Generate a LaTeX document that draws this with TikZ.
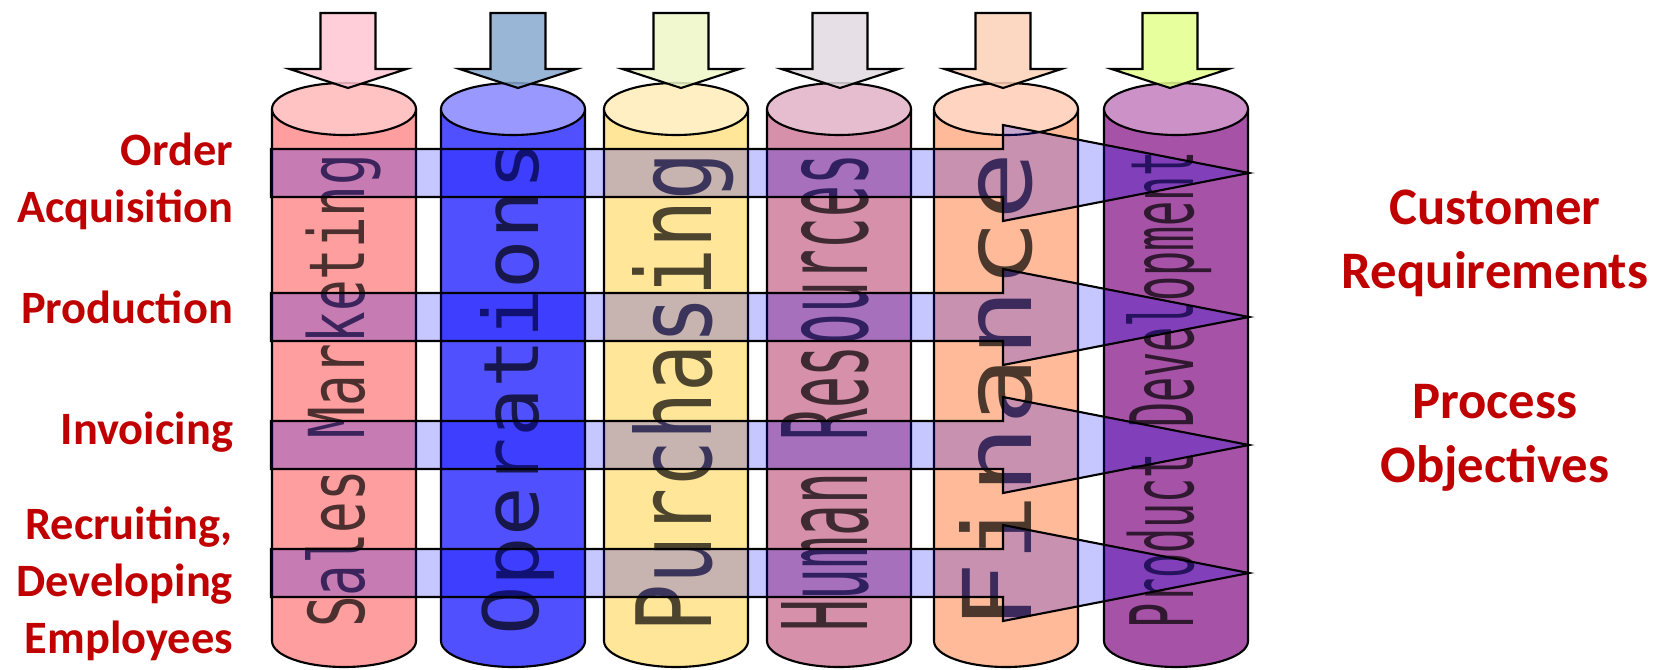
\documentclass[tikz,border=0pt]{standalone}
\usepackage{fontspec}
\setmainfont{Carlito}
\newfontfamily\cylfont{DejaVu Sans Mono}
\usepackage{graphicx}
\usepackage{xcolor}
\usepackage{tikz}

\definecolor{procred}{HTML}{C00000}
\definecolor{smBody}{HTML}{FF9E9E}\definecolor{smTop}{HTML}{FFC3C3}
\definecolor{opBody}{HTML}{5050FF}\definecolor{opTop}{HTML}{9898FF}
\definecolor{puBody}{HTML}{FFE699}\definecolor{puTop}{HTML}{FFEFC3}
\definecolor{hrBody}{HTML}{D690AA}\definecolor{hrTop}{HTML}{E6BDCE}
\definecolor{fiBody}{HTML}{FFBB99}\definecolor{fiTop}{HTML}{FFD5C2}
\definecolor{pdBody}{HTML}{A652A6}\definecolor{pdTop}{HTML}{CC92C8}
\definecolor{smIn}{HTML}{FFC5D1}\definecolor{opIn}{HTML}{87A9D0}
\definecolor{puIn}{HTML}{EFF6C6}\definecolor{hrIn}{HTML}{E2D9E1}
\definecolor{fiIn}{HTML}{FCD1B8}\definecolor{pdIn}{HTML}{E3FF8C}

\begin{document}
\begin{tikzpicture}[
  x=0.1mm,y=-0.1mm,
  line width=0.6pt,
  cyl/.style={draw=black,line join=round},
  band/.style={draw=black,fill=blue,fill opacity=0.22,line join=miter},
  inarrow/.style={draw=black,fill opacity=0.85,line join=miter},
  deptxt/.style={rotate=90,anchor=base west,inner sep=0pt,font=\cylfont,text=black,text opacity=0.7},
  proc/.style={font=\bfseries\fontsize{13.2}{16.1}\selectfont,text=procred,align=right,anchor=base east,inner sep=0pt},
  goal/.style={font=\bfseries\fontsize{15}{18.2}\selectfont,text=procred,align=center,anchor=base,inner sep=0pt}
]
\useasboundingbox (0,0) rectangle (1665,669);

% department silos
\foreach \cx/\bd/\tp in {344/smBody/smTop,513/opBody/opTop,676/puBody/puTop,
                         839/hrBody/hrTop,1006/fiBody/fiTop,1176/pdBody/pdTop}{
  \filldraw[cyl,fill=\bd] (\cx-72,109) -- (\cx-72,641) arc (180:0:72 and 26) -- (\cx+72,109) -- cycle;
  \filldraw[cyl,fill=\tp] (\cx,109) ellipse (72 and 26);
}

\node[deptxt] (sm) at (364,629) {\resizebox{47.4mm}{5.9mm}{Sales Marketing}};
\node[deptxt] (op) at (538,637) {\resizebox{49.5mm}{5.8mm}{Operations}};
\node[deptxt] (pu) at (711,634) {\resizebox{48.1mm}{7.9mm}{Purchasing}};
\node[deptxt] (hr) at (867,633) {\resizebox{47.8mm}{8.6mm}{Human Resources}};
\node[deptxt] (fi) at (1031,632) {\resizebox{47.9mm}{7.2mm}{Finance}};
\node[deptxt] (pd) at (1193,630) {\resizebox{47.8mm}{6.7mm}{Product Development}};

% processes across the silos
\foreach \m in {173,317,445,573}{
  \draw[band] (271,\m-24) -- (1003,\m-24) -- (1003,\m-48) -- (1249,\m)
    -- (1003,\m+48) -- (1003,\m+24) -- (271,\m+24) -- cycle;
}

% inputs on top
\foreach \ax/\ic in {348/smIn,518/opIn,681/puIn,840/hrIn,1003/fiIn,1170/pdIn}{
  \filldraw[inarrow,fill=\ic] (\ax-27.5,13) -- (\ax+27.5,13) -- (\ax+27.5,69) -- (\ax+58.5,69)
    -- (\ax,88) -- (\ax-58.5,69) -- (\ax-27.5,69) -- cycle;
}

% base of the last line
\node[proc] (oa) at (234,222) {Order\\Acquisition};
\node[proc] (pr) at (234,323) {Production};
\node[proc] (iv) at (234,444) {Invoicing};
\node[proc] (rd) at (234,653) {Recruiting,\\Developing\\Employees};

\node[goal] (cr) at (1495,288) {Customer\\Requirements};
\node[goal] (po) at (1495,482) {Process\\Objectives};
\end{tikzpicture}
\end{document}
